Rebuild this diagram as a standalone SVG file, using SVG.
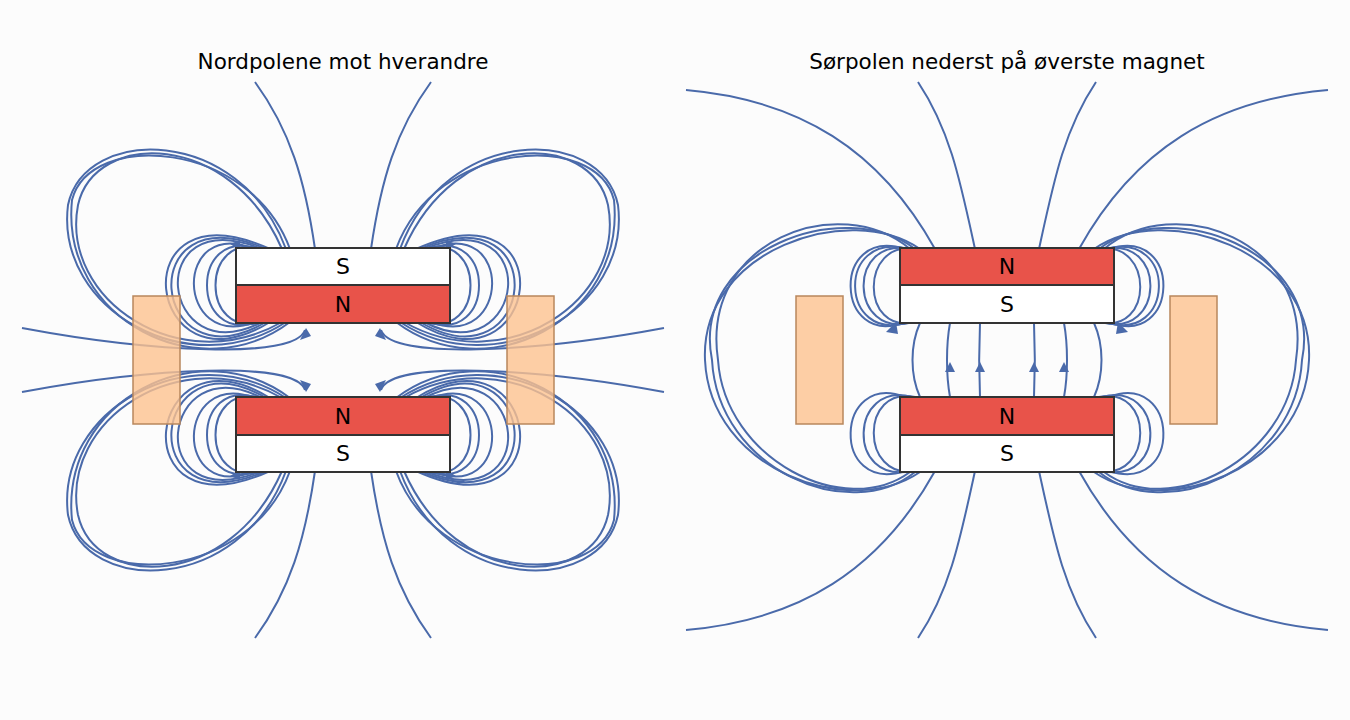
<svg xmlns="http://www.w3.org/2000/svg" width="1350" height="720" viewBox="0 0 1350 720">
<style>
.f{fill:none;stroke:#4a6aaa;stroke-width:2}
.a{fill:#4a6aaa}
.c{fill:#fdc28e;fill-opacity:0.8;stroke:#b8875c;stroke-width:1.5}
.r{fill:#e8534a;stroke:#333;stroke-width:2}
.w{fill:#fff;stroke:#333;stroke-width:2}
.t{font-family:"DejaVu Sans",sans-serif;font-size:22px;text-anchor:middle}
.h{font-family:"DejaVu Sans",sans-serif;font-size:21.5px;text-anchor:middle}
</style>
<rect width="1350" height="720" fill="#fcfcfc"/>
<text class="h" x="343" y="69">Nordpolene mot hverandre</text>
<text class="h" x="1007" y="69">Sørpolen nederst på øverste magnet</text>
<defs>
<g id="lq">
<path class="f" d="M262,322 C200,340 200,230 262,249"/>
<path class="f" d="M258,322 C190,345 190,225 258,249"/>
<path class="f" d="M255,322 C175,352 172,215 255,249"/>
<path class="f" d="M262,322 C160,375 140,200 262,249"/>
<path class="f" d="M266,322 C150,390 130,190 266,249"/>
<path class="f" d="M270,322 C145,400 118,180 270,249"/>
<path class="f" d="M282,322 C180,380 60,300 78,205 C95,130 230,130 282,249"/>
<path class="f" d="M286,322 C190,385 55,310 68,205 C85,125 240,125 286,249"/>
<path class="f" d="M290,322 C200,390 60,320 72,200 C90,130 250,140 290,249"/>
<path class="f" d="M315,249 C305,180 290,130 255,82"/>
<path class="f" d="M305,330 C295,360 150,352 22,328"/>
<polygon class="a" points="300,340 311,336 306,328"/>
<polygon class="a" points="230,244 240,240 240,250"/>
</g>
<g id="rq">
<path class="f" d="M915,322 C860,335 860,240 915,249"/>
<path class="f" d="M912,322 C850,340 845,235 912,249"/>
<path class="f" d="M908,322 C840,345 835,230 908,249"/>
<path class="f" d="M905,322 C835,350 830,225 905,249"/>
<path class="f" d="M935,249 C880,150 800,100 686,90"/>
<path class="f" d="M975,249 C960,180 950,130 918,82"/>
<path class="f" d="M920,323 C910,345 910,375 920,397"/>
<path class="f" d="M950,323 C946,345 946,375 950,397"/>
<path class="f" d="M980,323 C979,345 979,375 980,397"/>
<polygon class="a" points="950,362 945,372 955,372"/>
<polygon class="a" points="980,362 975,372 985,372"/>
<polygon class="a" points="886,332 896,322 898,334"/>
<path class="f" d="M920,249 C850,200 700,250 705,360 C710,470 850,520 920,472"/>
<path class="f" d="M915,249 C845,195 690,250 712,360 C718,470 850,525 915,472"/>
<path class="f" d="M910,249 C840,190 700,240 718,360 C725,460 845,520 910,472"/>
</g>
</defs>
<g id="connectors">
<use href="#lq"/>
<use href="#lq" transform="translate(686,0) scale(-1,1)"/>
<use href="#lq" transform="translate(0,720) scale(1,-1)"/>
<use href="#lq" transform="translate(686,720) scale(-1,-1)"/>
<use href="#rq"/>
<use href="#rq" transform="translate(2014,0) scale(-1,1)"/>
<g transform="translate(0,720) scale(1,-1)">
<path class="f" d="M935,249 C880,150 800,100 686,90"/>
<path class="f" d="M975,249 C960,180 950,130 918,82"/>
<path class="f" d="M1079,249 C1134,150 1214,100 1328,90"/>
<path class="f" d="M1039,249 C1054,180 1064,130 1096,82"/>
<path class="f" d="M905,323 C835,350 830,225 905,249"/>
<path class="f" d="M912,323 C850,340 845,235 912,249"/>
<path class="f" d="M915,323 C860,335 860,240 915,249"/>
<path class="f" d="M1109,323 C1179,350 1184,225 1109,249"/>
<path class="f" d="M1102,323 C1164,340 1169,235 1102,249"/>
<path class="f" d="M1099,323 C1154,335 1154,240 1099,249"/>
</g>
</g>
<g id="coils">
<rect class="c" x="133" y="296" width="47" height="128"/>
<rect class="c" x="507" y="296" width="47" height="128"/>
<rect class="c" x="796" y="296" width="47" height="128"/>
<rect class="c" x="1170" y="296" width="47" height="128"/>
</g>
<g id="magnet-left-top">
<rect class="w" x="236" y="248" width="214" height="37"/><rect class="r" x="236" y="285" width="214" height="38"/>
<text class="t" x="343" y="274">S</text><text class="t" x="343" y="312">N</text>
</g>
<g id="magnet-left-bottom">
<rect class="r" x="236" y="397" width="214" height="38"/><rect class="w" x="236" y="435" width="214" height="37"/>
<text class="t" x="343" y="424">N</text><text class="t" x="343" y="461">S</text>
</g>
<g id="magnet-right-top">
<rect class="r" x="900" y="248" width="214" height="37"/><rect class="w" x="900" y="285" width="214" height="38"/>
<text class="t" x="1007" y="274">N</text><text class="t" x="1007" y="312">S</text>
</g>
<g id="magnet-right-bottom">
<rect class="r" x="900" y="397" width="214" height="38"/><rect class="w" x="900" y="435" width="214" height="37"/>
<text class="t" x="1007" y="424">N</text><text class="t" x="1007" y="461">S</text>
</g>
</svg>
